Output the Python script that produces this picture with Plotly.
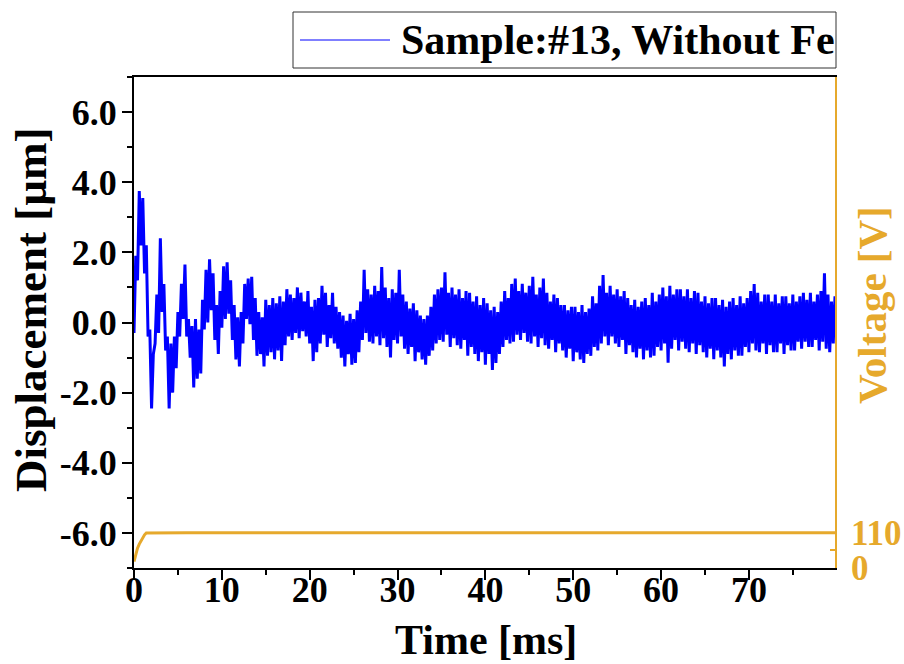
import plotly.graph_objects as go

# ---- data ----
dt_ms = 0.2  # sample spacing of the displacement record [ms]
displacement_um = [
    # 0 - 16 ms (decaying oscillation)
    -0.3, 1.9, 1.2, 3.75, 2.2, 3.55, 1.4, 2.2, -0.4, -0.2,
    -2.45, -0.9, -0.6, 0.8, -0.3, 2.4, 0.3, 1.1, -0.8, -0.4,
    -2.45, -0.6, -2.0, -0.4, -1.3, 0.3, -0.4, 1.1, 0.1, 1.65,
    -0.4, 0.1, -1.0, -0.1, -1.85, 0.1, -1.6, -0.2, -1.45, 0.65,
    -0.2, 1.5, 0.0, 1.8, 0.35, 1.4, -0.5, 0.5, -0.9, 0.9,
    -0.15, 1.6, 0.1, 1.72, 0.25, 1.2, -0.5, 0.5, -1.05, 0.15,
    -1.25, 0.3, -0.6, 1.1, 0.1, 1.25, -0.05, 1.3, -0.5, 0.7,
    -0.95, 0.3, -0.9, 0.15, -1.25, 0.65, -0.95, 0.5, -0.85, 0.7,
    # 16 - 80 ms (noise band with slow wander)
    -1.05, 0.55, -0.8, 0.75, -1.1,
    0.6, -0.65, 0.95, -0.4, 0.8,
    -0.5, 0.7, -0.3, 1.0, -0.45,
    0.85, -0.25, 0.6, -0.4, 0.9,
    -0.6, 0.45, -1.1, 0.65, -0.85,
    0.7, -0.6, 1.05, -0.35, 0.85,
    -0.7, 0.5, -0.45, 0.85, -0.6,
    0.45, -0.75, 0.3, -1.0, 0.2,
    -1.25, 0.05, -0.9, 0.25, -1.2,
    0.1, -1.15, 0.35, -0.85, 0.6,
    -0.5, 1.5, -0.3, 0.95, -0.55,
    0.8, -0.6, 1.05, -0.4, 0.9,
    -0.65, 1.58, -0.45, 1.0, -0.7,
    0.7, -1.0, 0.95, -0.5, 0.85,
    -0.6, 1.5, -0.4, 0.8, -0.75,
    0.6, -0.9, 0.4, -0.7, 0.55,
    -1.1, 0.35, -0.85, 0.2, -1.05,
    0.1, -1.2, 0.2, -0.95, 0.45,
    -0.8, 0.8, -0.6, 0.95, -0.5,
    1.0, -0.55, 1.43, -0.35, 0.85,
    -0.7, 1.0, -0.45, 0.8, -0.65,
    0.95, -0.75, 0.7, -0.5, 0.9,
    -0.95, 0.85, -0.7, 0.6, -0.9,
    0.75, -1.1, 0.5, -0.85, 0.7,
    -1.2, 0.55, -0.9, 0.35, -1.35,
    0.45, -1.15, 0.3, -0.9, 0.6,
    -0.7, 0.9, -0.5, 0.7, -0.6,
    1.1, -0.55, 1.25, -0.35, 0.9,
    -0.5, 1.1, -0.3, 0.85, -0.55,
    1.05, -0.6, 1.3, -0.4, 0.8,
    -0.7, 1.0, -0.45, 1.25, -0.65,
    0.85, -0.75, 0.6, -0.5, 0.8,
    -0.85, 0.7, -0.6, 0.5, -0.8,
    0.5, -1.0, 0.35, -0.75, 0.45,
    -1.1, 0.45, -0.85, 0.3, -1.05,
    0.5, -1.15, 0.3, -0.9, 0.4,
    -0.95, 0.75, -0.7, 0.55, -0.8,
    1.05, -0.6, 1.35, -0.4, 0.85,
    -0.65, 1.05, -0.4, 0.8, -0.6,
    0.95, -0.7, 0.75, -0.5, 0.9,
    -0.9, 0.7, -0.65, 0.5, -0.85,
    0.65, -1.0, 0.45, -0.75, 0.6,
    -1.05, 0.7, -0.8, 0.5, -1.0,
    0.85, -0.95, 0.6, -0.7, 0.8,
    -0.8, 1.0, -0.6, 0.75, -1.15,
    1.05, -0.75, 0.8, -0.5, 0.95,
    -0.8, 0.95, -0.55, 0.75, -0.75,
    0.95, -0.85, 0.7, -0.6, 0.9,
    -0.9, 0.85, -0.65, 0.6, -0.85,
    0.75, -1.0, 0.55, -0.75, 0.7,
    -1.05, 0.7, -0.8, 0.5, -1.0,
    0.65, -1.25, 0.45, -0.9, 0.6,
    -1.05, 0.7, -0.8, 0.5, -0.95,
    0.75, -0.95, 0.55, -0.7, 0.7,
    -0.85, 0.9, -0.6, 1.1, -0.8,
    0.85, -0.85, 0.6, -0.6, 0.8,
    -0.9, 0.8, -0.65, 0.6, -0.85,
    0.8, -0.85, 0.55, -0.6, 0.75,
    -0.9, 0.75, -0.65, 0.55, -0.8,
    0.8, -0.8, 0.6, -0.55, 0.75,
    -0.75, 0.85, -0.55, 0.65, -0.7,
    0.85, -0.7, 0.6, -0.5, 0.8,
    -0.8, 0.9, -0.55, 1.4, -0.75,
    0.8, -0.85, 0.6, -0.6, 0.75,
]
time_ms = [round(i * dt_ms, 1) for i in range(len(displacement_um))]

voltage_time_ms = [0.0, 0.2, 0.4, 0.6, 0.8, 1.0, 1.2, 1.4, 2, 4, 6, 8, 10, 12, 14, 16, 18, 20,
                   22, 24, 26, 28, 30, 32, 34, 36, 38, 40, 42, 44, 46, 48, 50, 52, 54, 56,
                   58, 60, 62, 64, 66, 68, 70, 72, 74, 76, 78, 79.8]
voltage_v = [20, 45, 62, 75, 86, 96, 104, 110, 110.3, 110.1, 110.4, 110.2, 110.3, 110.1,
             110.2, 110.4, 110.2, 110.3, 110.1, 110.3, 110.2, 110.4, 110.2, 110.1, 110.3,
             110.2, 110.3, 110.1, 110.4, 110.2, 110.3, 110.1, 110.2, 110.3, 110.2, 110.4,
             110.2, 110.3, 110.1, 110.2, 110.3, 110.2, 110.1, 110.3, 110.2, 110.3, 110.2, 110.2]

disp_ticks = [-6, -4, -2, 0, 2, 4, 6]
disp_ticklabels = ["-6.0", "-4.0", "-2.0", "0.0", "2.0", "4.0", "6.0"]
time_ticks = [0, 10, 20, 30, 40, 50, 60, 70]
volt_ticks = [0, 110]

series_name = "Sample:#13, Without Fe"

# ---- style ----
FONT = "Liberation Serif, Times New Roman, serif"
ORANGE = "#E6A92C"
BLUE = "#0000FF"

fig = go.Figure()
fig.add_trace(go.Scatter(x=time_ms, y=displacement_um, mode="lines", name=series_name,
                         line=dict(color=BLUE, width=3), yaxis="y", showlegend=False))
fig.add_trace(go.Scatter(x=voltage_time_ms, y=voltage_v, mode="lines", name="Voltage",
                         line=dict(color=ORANGE, width=3), yaxis="y2", showlegend=False))

W, H = 904, 664
ml, mr, mt, mb = 134, 69, 77, 96
pw = W - ml - mr
ph = H - mt - mb

def px_x(px):
    return (px - ml) / pw

def px_y(py):
    return (H - mb - py) / ph

fig.update_layout(
    width=W, height=H,
    margin=dict(l=ml, r=mr, t=mt, b=mb, autoexpand=False),
    paper_bgcolor="white", plot_bgcolor="white",
    font=dict(family=FONT, size=36, color="black", weight="bold"),
    showlegend=False,
    xaxis=dict(
        range=[0, 79.8], tickvals=time_ticks, ticks="outside", ticklen=10, tickwidth=2,
        tickcolor="black", showline=True, linecolor="black", linewidth=2, mirror=True,
        showgrid=False, zeroline=False, automargin=False, ticklabelstandoff=-21,
        minor=dict(dtick=5, ticks="outside", ticklen=5, tickwidth=2, tickcolor="black"),
        tickfont=dict(family=FONT, size=36, color="black", weight="bold"),
    ),
    yaxis=dict(
        range=[-7, 7], tickvals=disp_ticks, ticktext=disp_ticklabels, ticks="outside",
        ticklen=10, tickwidth=2, tickcolor="black", showline=True, linecolor="black",
        linewidth=2, showgrid=False, zeroline=False, automargin=False, ticklabelstandoff=-2,
        minor=dict(dtick=1, ticks="outside", ticklen=5, tickwidth=2, tickcolor="black"),
        tickfont=dict(family=FONT, size=36, color="black", weight="bold"),
    ),
    yaxis2=dict(
        overlaying="y", side="right", range=[0, 1540], tickvals=volt_ticks,
        ticks="inside", ticklen=8, tickwidth=2, tickcolor=ORANGE, showline=True,
        linecolor=ORANGE, linewidth=2, showgrid=False, zeroline=False, automargin=False,
        ticklabelstandoff=7,
        minor=dict(tickvals=[55], ticks="inside", ticklen=5, tickwidth=2, tickcolor=ORANGE),
        tickfont=dict(family=FONT, size=35, color=ORANGE, weight="bold"),
    ),
    annotations=[
        dict(text="Time [ms]", xref="paper", yref="paper",
             x=px_x(486), y=px_y(640), xanchor="center", yanchor="middle", showarrow=False,
             font=dict(family=FONT, size=42, color="black", weight="bold")),
        dict(text="Displacement [µm]", textangle=-90, xref="paper", yref="paper",
             x=px_x(31), y=px_y(310), xanchor="center", yanchor="middle", showarrow=False,
             font=dict(family=FONT, size=45, color="black", weight="bold")),
        dict(text="Voltage [V]", textangle=-90, xref="paper", yref="paper",
             x=px_x(872), y=px_y(305), xanchor="center", yanchor="middle", showarrow=False,
             font=dict(family=FONT, size=41, color=ORANGE, weight="bold")),
        dict(text=series_name, xref="paper", yref="paper",
             x=px_x(399), y=px_y(40), xanchor="left", yanchor="middle", showarrow=False,
             font=dict(family=FONT, size=42, color="black", weight="bold")),
    ],
    shapes=[
        # legend frame and sample line
        dict(type="rect", xref="paper", yref="paper",
             x0=px_x(293), x1=px_x(836), y0=px_y(12), y1=px_y(68),
             line=dict(color="#333333", width=1), fillcolor="white", layer="below"),
        dict(type="line", xref="paper", yref="paper",
             x0=px_x(300), x1=px_x(390), y0=px_y(40), y1=px_y(40),
             line=dict(color=BLUE, width=1)),
    ],
)

# remove the browser's default page margin so the figure sits at the window origin
fig.write_html("out.html", config={"displayModeBar": False},
               post_script="document.body.style.margin='0px';")
